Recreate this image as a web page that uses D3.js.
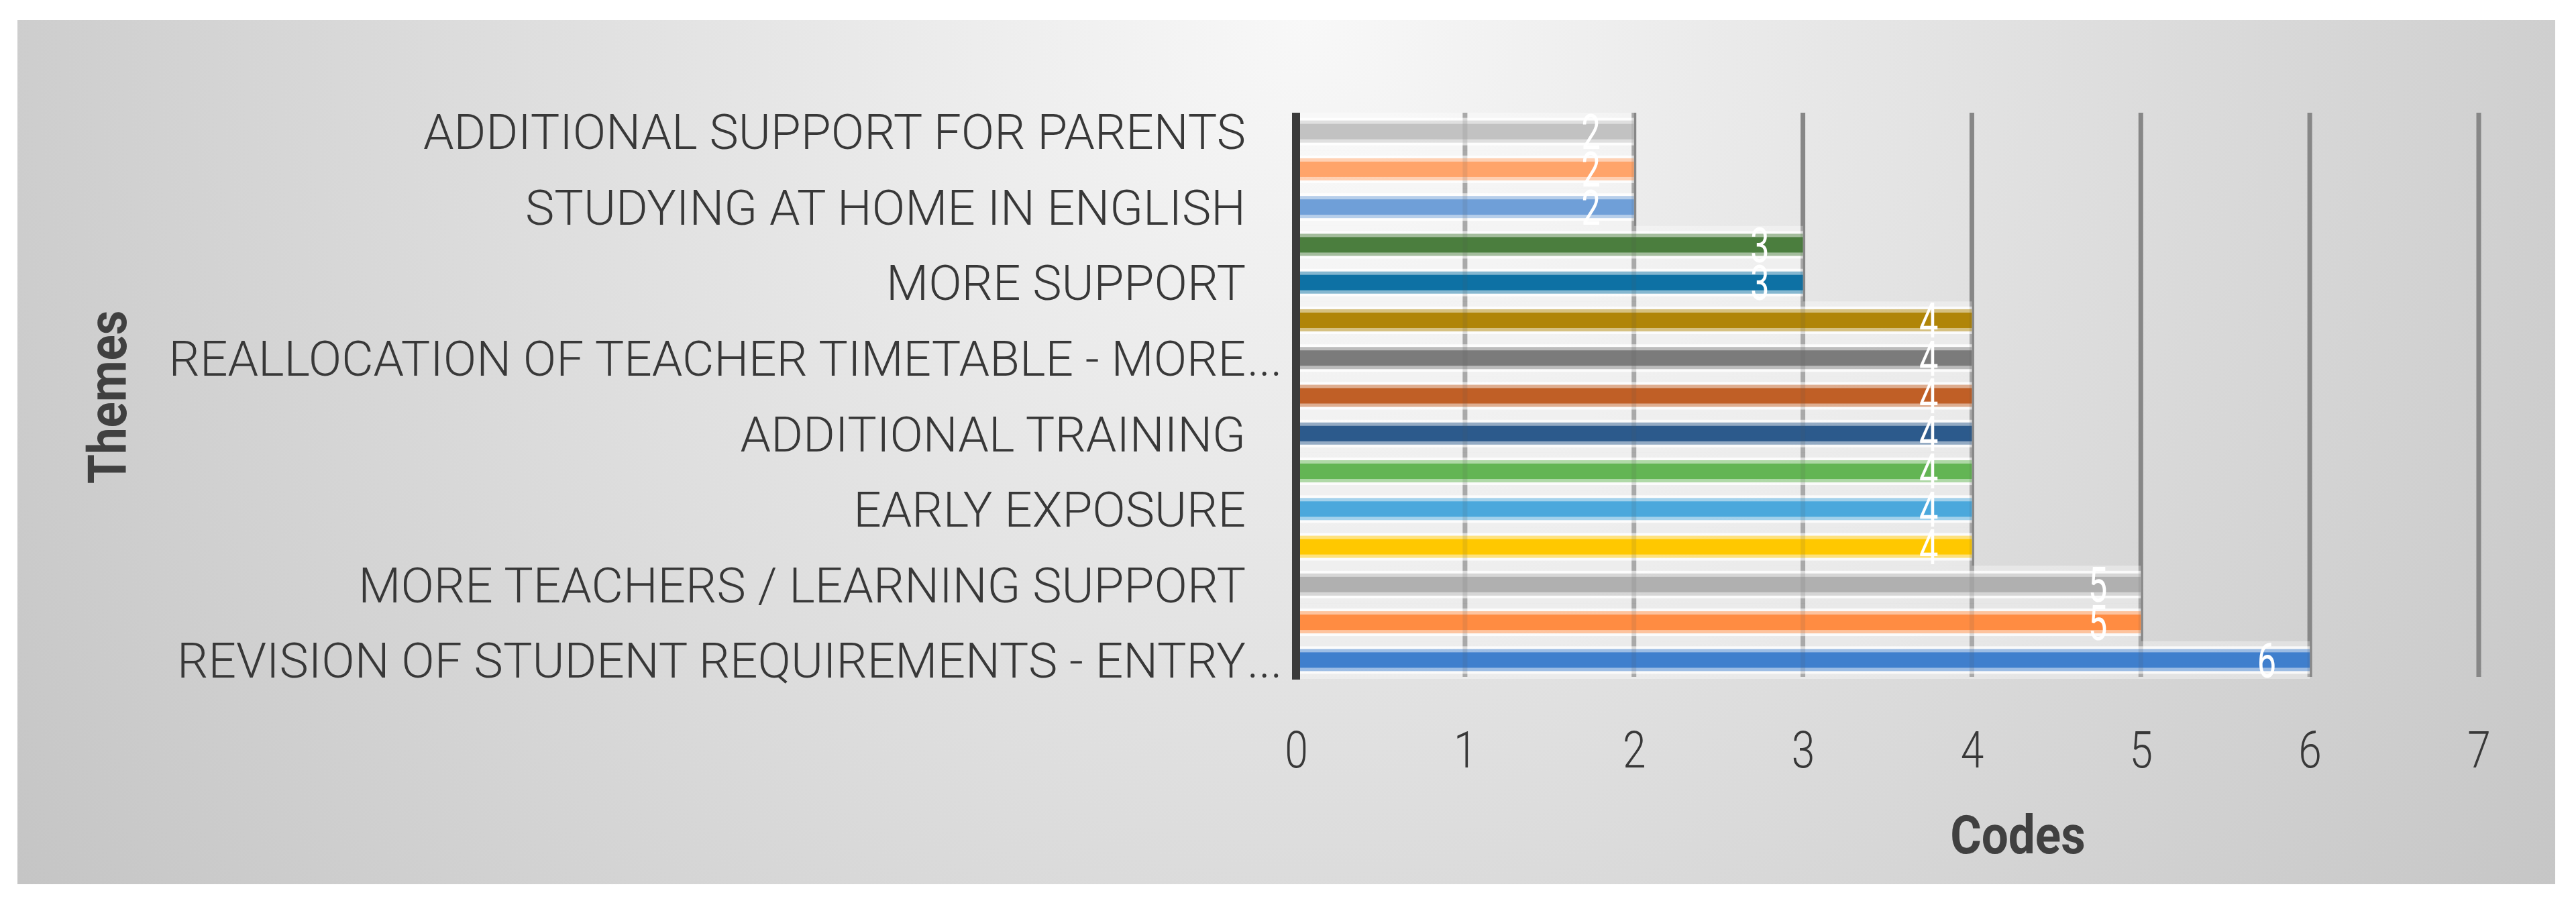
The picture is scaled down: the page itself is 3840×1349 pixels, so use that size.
<!DOCTYPE html>
<html>
<head>
<meta charset="utf-8">
<script src="https://cdn.jsdelivr.net/npm/d3@7"></script>
<style>
  body { margin: 0; background: #fff; }
  svg { display: block; }
</style>
</head>
<body>
<script>
// data, bottom bar first (index 0 = lowest bar)
const themes = [
  "REVISION OF STUDENT REQUIREMENTS - ENTRY...", "",
  "MORE TEACHERS / LEARNING SUPPORT", "",
  "EARLY EXPOSURE", "",
  "ADDITIONAL TRAINING", "",
  "REALLOCATION OF TEACHER TIMETABLE - MORE...", "",
  "MORE SUPPORT", "",
  "STUDYING AT HOME IN ENGLISH", "",
  "ADDITIONAL SUPPORT FOR PARENTS"
];
const codes = [6, 5, 5, 4, 4, 4, 4, 4, 4, 4, 3, 3, 2, 2, 2];
const barColors = [
  "#3f7fcd", "#ff8c42", "#b0b0b0", "#ffc800", "#4ba8dc",
  "#63b554", "#2c5a8c", "#c05f26", "#7b7b7b", "#b08508",
  "#0e71a4", "#4b7e3e", "#6f9fd8", "#ffa46a", "#c2c2c2"
];
const xTicks = [0, 1, 2, 3, 4, 5, 6, 7];

const W = 3840, H = 1349;
const svg = d3.select("body").append("svg")
  .attr("width", W).attr("height", H);

const defs = svg.append("defs");
const bg = defs.append("radialGradient")
  .attr("id", "bg").attr("gradientUnits", "userSpaceOnUse")
  .attr("cx", 1950).attr("cy", 30).attr("r", 2400);
bg.append("stop").attr("offset", 0).attr("stop-color", "#f8f8f8");
bg.append("stop").attr("offset", 1).attr("stop-color", "#c3c3c3");

// panel
svg.append("rect")
  .attr("x", 26).attr("y", 30).attr("width", 3783).attr("height", 1288)
  .attr("fill", "url(#bg)");

const x = d3.scaleLinear().domain([0, 7]).range([1932, 3695]);
const y = d3.scaleBand().domain(d3.range(codes.length)).range([1012, 168]);
const c = i => y(i) + y.bandwidth() / 2;

// gridlines under the bars
svg.append("g").selectAll("line")
  .data(xTicks.slice(1))
  .join("line")
  .attr("x1", d => x(d)).attr("x2", d => x(d))
  .attr("y1", 168).attr("y2", 1009)
  .attr("stroke", "#8f8f8f").attr("stroke-width", 7);

const bars = svg.append("g").selectAll("g")
  .data(codes)
  .join("g");

// soft band behind each bar
bars.append("rect")
  .attr("x", x(0)).attr("y", (d, i) => y(i))
  .attr("width", d => x(d) - x(0)).attr("height", y.bandwidth())
  .attr("fill", "#fff").attr("fill-opacity", 0.35);
// white outline
bars.append("rect")
  .attr("x", x(0)).attr("y", (d, i) => c(i) - 20.5)
  .attr("width", d => x(d) - x(0)).attr("height", 41)
  .attr("fill", "#fff").attr("fill-opacity", 0.8);
// pale edge
bars.append("rect")
  .attr("x", x(0)).attr("y", (d, i) => c(i) - 16.5)
  .attr("width", d => x(d) - x(0)).attr("height", 33)
  .attr("fill", (d, i) => barColors[i]).attr("fill-opacity", 0.5);
// bar core
bars.append("rect")
  .attr("x", x(0)).attr("y", (d, i) => c(i) - 11.5)
  .attr("width", d => x(d) - x(0)).attr("height", 23)
  .attr("fill", (d, i) => barColors[i]);

// gridlines faintly showing through
svg.append("g").selectAll("line")
  .data(xTicks.slice(1))
  .join("line")
  .attr("x1", d => x(d)).attr("x2", d => x(d))
  .attr("y1", 168).attr("y2", 1009)
  .attr("stroke", "#555").attr("stroke-width", 7).attr("stroke-opacity", 0.12);

// value labels
svg.append("g").selectAll("text")
  .data(codes)
  .join("text")
  .attr("transform", (d, i) => `translate(${x(d) - 50},${c(i)}) scale(0.7,1)`)
  .attr("text-anchor", "end").attr("dy", "0.36em")
  .attr("fill", "#fff")
  .style("font-family", "Roboto, 'Liberation Sans', sans-serif")
  .style("font-size", "72px")
  .text(d => d);

// vertical axis line
svg.append("line")
  .attr("x1", x(0)).attr("x2", x(0)).attr("y1", 168).attr("y2", 1013)
  .attr("stroke", "#3b3b3b").attr("stroke-width", 12);

// category labels
const yAxis = svg.append("g")
  .attr("transform", "translate(1857,0)")
  .call(d3.axisLeft(y).tickSize(0).tickPadding(0)
    .tickFormat(i => themes[i].replace(/\.\.\.$/, "")));
yAxis.select(".domain").remove();
yAxis.selectAll("text")
  .attr("dy", "0.36em")
  .attr("fill", "#383838")
  .style("font-family", "Roboto, 'Liberation Sans', sans-serif")
  .style("font-weight", 300)
  .style("font-size", "73px");
yAxis.selectAll(".tick")
  .filter(i => themes[i].endsWith("..."))
  .append("text")
  .attr("x", 2).attr("dy", "0.36em")
  .attr("text-anchor", "start")
  .attr("fill", "#383838")
  .style("font-family", "Roboto, 'Liberation Sans', sans-serif")
  .style("font-weight", 300)
  .style("font-size", "73px")
  .text("...");

// x tick labels
const xAxis = svg.append("g")
  .attr("transform", "translate(0,1012)")
  .call(d3.axisBottom(x).tickValues(xTicks).tickSize(0).tickPadding(78)
    .tickFormat(d3.format("d")));
xAxis.select(".domain").remove();
xAxis.selectAll("text")
  .attr("transform", "scale(0.82,1)")
  .attr("fill", "#383838")
  .style("font-family", "Roboto, 'Liberation Sans', sans-serif")
  .style("font-weight", 300)
  .style("font-size", "76px");

// axis titles
svg.append("text")
  .attr("transform", "translate(188,592) rotate(-90) scale(0.9,1)")
  .attr("text-anchor", "middle")
  .attr("fill", "#404040")
  .style("font-family", "Roboto, 'Liberation Sans', sans-serif")
  .style("font-weight", 700)
  .style("font-size", "79px")
  .text("Themes");

svg.append("text")
  .attr("transform", "translate(3008,1272) scale(0.9,1)")
  .attr("text-anchor", "middle")
  .attr("fill", "#404040")
  .style("font-family", "Roboto, 'Liberation Sans', sans-serif")
  .style("font-weight", 700)
  .style("font-size", "79px")
  .text("Codes");
</script>
</body>
</html>
